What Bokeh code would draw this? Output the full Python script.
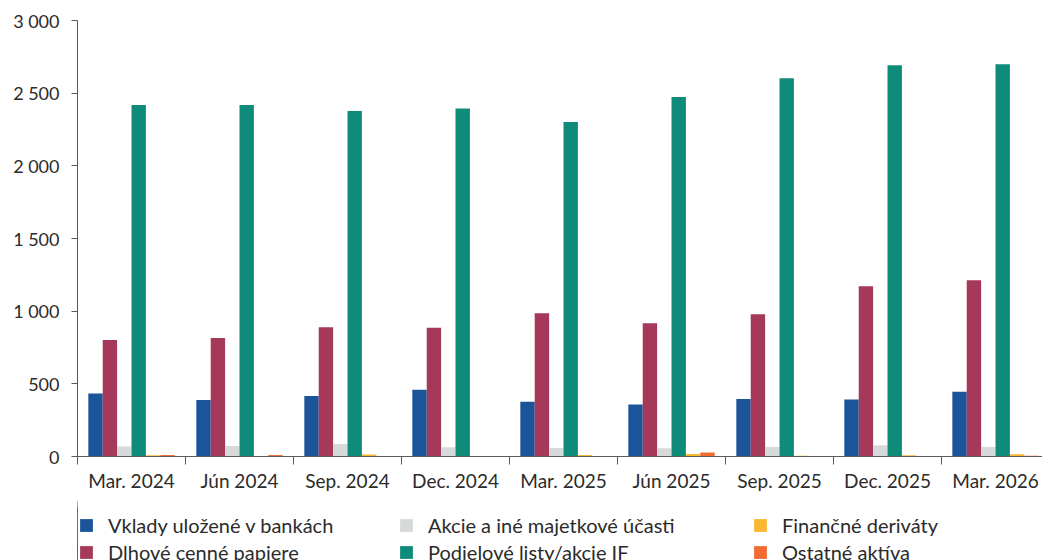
import numpy as np
from bokeh.plotting import figure
from bokeh.layouts import column
from bokeh.models import Range1d, FixedTicker, Legend, LegendItem, ColumnDataSource
from bokeh.embed import file_html
from bokeh.resources import INLINE

categories = ["Mar. 2024", "Jún 2024", "Sep. 2024", "Dec. 2024", "Mar. 2025",
              "Jún 2025", "Sep. 2025", "Dec. 2025", "Mar. 2026"]
vklady = [434, 388, 416, 459, 377, 358, 395, 392, 445]
dlhove = [801, 815, 890, 886, 986, 916, 979, 1171, 1212]
akcie = [68, 73, 86, 64, 59, 57, 66, 77, 66]
podielove = [2418, 2418, 2377, 2395, 2301, 2473, 2603, 2692, 2699]
derivaty = [9, 3, 14, 4, 10, 18, 6, 8, 15]
ostatne = [11, 11, 2, 2, 2, 28, 2, 2, 5]

series_names = ["Vklady uložené v bankách", "Dlhové cenné papiere",
                "Akcie a iné majetkové účasti", "Podielové listy/akcie IF",
                "Finančné deriváty", "Ostatné aktíva"]
series_values = [vklady, dlhove, akcie, podielove, derivaty, ostatne]
colors = ["#1b5499", "#a6395a", "#d6d9da", "#0f8b79", "#fbb731", "#f26b30"]

y_ticks = [0, 500, 1000, 1500, 2000, 2500, 3000]
y_tick_labels = ["0", "500", "1 000", "1 500", "2 000", "2 500", "3 000"]

FONT = "Lato"
TXT = "#2b2b2b"
AX = "#5a5a5a"

n = len(categories)
centers = np.arange(n) + 0.5
bar_w = 0.1333
offsets = (np.arange(len(series_names)) - (len(series_names) - 1) / 2) * bar_w

p = figure(width=1042, height=494, output_backend="svg", toolbar_location=None,
           x_range=Range1d(0, 8.935), y_range=Range1d(0, 3000),
           min_border_left=77, min_border_right=0, min_border_top=20,
           min_border_bottom=36)
p.outline_line_color = None
p.xgrid.visible = False
p.ygrid.visible = False

for name, vals, col, off in zip(series_names, series_values, colors, offsets):
    src = ColumnDataSource(dict(x=centers + off, top=vals))
    p.vbar(x="x", top="top", width=bar_w, bottom=0, source=src,
           fill_color=col, line_color=None)

# x axis: labels at category centres, tick marks at category boundaries
xa = p.xaxis[0]
xa.ticker = FixedTicker(ticks=list(centers), minor_ticks=list(range(n + 1)))
xa.major_label_overrides = {float(c): lab for c, lab in zip(centers, categories)}
xa.major_tick_out = 0
xa.major_tick_in = 0
xa.minor_tick_out = 8
xa.minor_tick_in = 0
xa.minor_tick_line_color = AX
xa.axis_line_color = AX
xa.major_label_text_font = FONT
xa.major_label_text_font_size = "19px"
xa.major_label_text_color = TXT
xa.major_label_standoff = 4

# y axis
ya = p.yaxis[0]
ya.ticker = FixedTicker(ticks=y_ticks, minor_ticks=[])
ya.major_label_overrides = {t: lab for t, lab in zip(y_ticks, y_tick_labels)}
ya.major_tick_out = 6
ya.major_tick_in = 0
ya.major_tick_line_color = AX
ya.axis_line_color = AX
ya.major_label_text_font = FONT
ya.major_label_text_font_size = "18px"
ya.major_label_text_color = TXT
ya.major_label_standoff = 12

# legend strip below the chart (its bars lie far outside its visible x range)
lf = figure(width=1042, height=66, output_backend="svg", toolbar_location=None,
            x_range=Range1d(20, 28.935), y_range=Range1d(0, 3000),
            min_border_left=0, min_border_right=0, min_border_top=0,
            min_border_bottom=0)
lf.axis.visible = False
lf.xgrid.visible = False
lf.ygrid.visible = False
lf.outline_line_color = None

swatches = []
for name, vals, col, off in zip(series_names, series_values, colors, offsets):
    src = ColumnDataSource(dict(x=centers + off, top=vals))
    r = lf.vbar(x="x", top="top", width=bar_w, bottom=0, source=src,
                fill_color=col, line_color=None)
    swatches.append(r)

col_x = [1, 321, 675]
for ci in range(3):
    items = [LegendItem(label=series_names[2 * ci + k], renderers=[swatches[2 * ci + k]])
             for k in range(2)]
    lg = Legend(items=items, location=(col_x[ci], -4), orientation="vertical",
                padding=0, margin=0, spacing=3, border_line_color=None,
                background_fill_alpha=0, glyph_width=16, glyph_height=16,
                label_height=20, label_standoff=14,
                label_text_font=FONT, label_text_font_size="20px",
                label_text_color=TXT)
    lf.add_layout(lg, "center")

layout = column(p, lf, spacing=0)
open("out.html", "w").write(file_html(layout, INLINE))
